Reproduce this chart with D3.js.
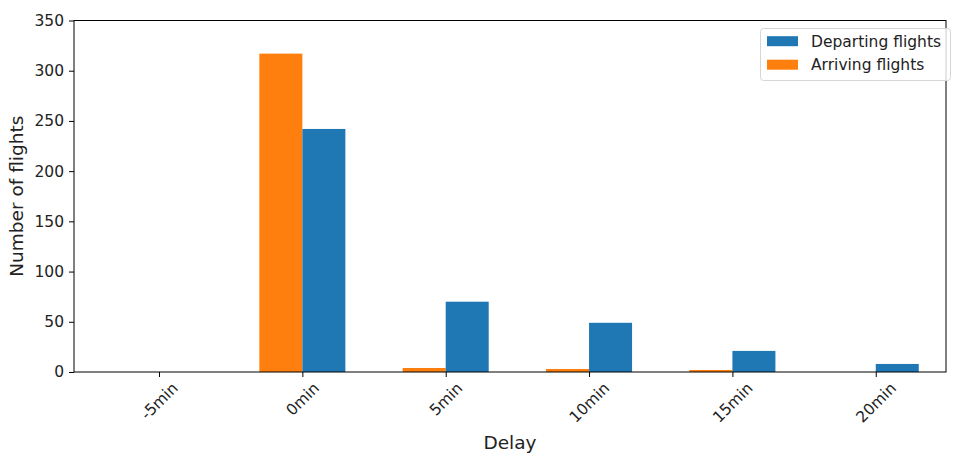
<!doctype html>
<html>
<head>
<meta charset="utf-8">
<title>Flight delays</title>
<script src="https://cdn.jsdelivr.net/npm/d3@7/dist/d3.min.js"></script>
<style>
    body { margin: 0; background: white; }
    text { font-family: "DejaVu Sans", sans-serif; fill: #222; }
    .tick text { font-size: 15.5px; }
    .label { font-size: 18.5px; }
    .legend text { font-size: 15.5px; }
</style>
</head>
<body>
<script>
    const categories = ["-5min", "0min", "5min", "10min", "15min", "20min"];
    const departing = [0, 242, 70, 49, 21, 8];
    const arriving = [0, 317, 4, 3, 2, 0];
    const yTicks = [0, 50, 100, 150, 200, 250, 300, 350];

    const width = 955, height = 454;
    const plotLeft = 74, plotRight = 946, plotTop = 20.5, plotBottom = 372;
    const barW = 0.3;
    const blue = "#1f77b4", orange = "#ff7f0e";

    const svg = d3.select("body").append("svg")
        .attr("width", width)
        .attr("height", height);

    // category index -> pixel
    const x = d3.scaleLinear().domain([-0.593, 5.49]).range([plotLeft, plotRight]);
    const y = d3.scaleLinear().domain([0, 350]).range([plotBottom, plotTop]);

    // bars
    const idx = categories.map((d, i) => i);
    svg.append("g").selectAll("rect")
        .data(idx)
        .join("rect")
        .attr("x", i => x(i - barW))
        .attr("width", x(barW) - x(0))
        .attr("y", i => y(arriving[i]))
        .attr("height", i => y(0) - y(arriving[i]))
        .attr("fill", orange);
    svg.append("g").selectAll("rect")
        .data(idx)
        .join("rect")
        .attr("x", i => x(i))
        .attr("width", x(barW) - x(0))
        .attr("y", i => y(departing[i]))
        .attr("height", i => y(0) - y(departing[i]))
        .attr("fill", blue);

    // y axis
    const yAxis = svg.append("g")
        .attr("transform", `translate(${plotLeft},0)`)
        .call(d3.axisLeft(y).tickValues(yTicks).tickSize(5).tickPadding(5));
    yAxis.select(".domain").remove();
    yAxis.selectAll(".tick line").attr("stroke", "#000").attr("stroke-width", 1);
    yAxis.selectAll(".tick text").attr("fill", "#222").attr("font-family", null).attr("font-size", null);

    // x axis
    const xAxis = svg.append("g")
        .attr("transform", `translate(0,${plotBottom})`)
        .call(d3.axisBottom(x).tickValues(idx).tickFormat(i => categories[i]).tickSize(5));
    xAxis.select(".domain").remove();
    xAxis.selectAll(".tick line").attr("stroke", "#000").attr("stroke-width", 1);
    xAxis.selectAll(".tick text")
        .attr("fill", "#222").attr("font-family", null).attr("font-size", null)
        .attr("text-anchor", "middle")
        .attr("dominant-baseline", "central")
        .attr("dy", null)
        .each(function () {
            const w = this.getComputedTextLength();
            const h = (w + 14) * Math.SQRT1_2;
            const cy = 8.5 + h / 2;
            d3.select(this).attr("y", cy).attr("transform", `rotate(-45,0,${cy})`);
        });

    // frame
    svg.append("rect")
        .attr("x", plotLeft).attr("y", plotTop)
        .attr("width", plotRight - plotLeft).attr("height", plotBottom - plotTop)
        .attr("fill", "none").attr("stroke", "#000").attr("stroke-width", 1);

    // axis labels
    svg.append("text").attr("class", "label")
        .attr("x", (plotLeft + plotRight) / 2).attr("y", 449)
        .attr("text-anchor", "middle")
        .text("Delay");
    svg.append("text").attr("class", "label")
        .attr("transform", `translate(23,${(plotTop + plotBottom) / 2}) rotate(-90)`)
        .attr("text-anchor", "middle")
        .text("Number of flights");

    // legend
    const legend = svg.append("g").attr("class", "legend");
    legend.append("rect")
        .attr("x", 760.5).attr("y", 28.5).attr("width", 190).attr("height", 52)
        .attr("rx", 3).attr("fill", "white").attr("fill-opacity", 0.8)
        .attr("stroke", "#d6d6d6").attr("stroke-width", 1);
    const entries = [
        {name: "Departing flights", color: blue},
        {name: "Arriving flights", color: orange}
    ];
    entries.forEach((e, i) => {
        const cy = 41.2 + i * 23.5;
        legend.append("rect")
            .attr("x", 767).attr("y", cy - 5).attr("width", 31).attr("height", 10)
            .attr("fill", e.color);
        legend.append("text")
            .attr("x", 811).attr("y", cy).attr("dy", "0.35em")
            .text(e.name);
    });
</script>
</body>
</html>
